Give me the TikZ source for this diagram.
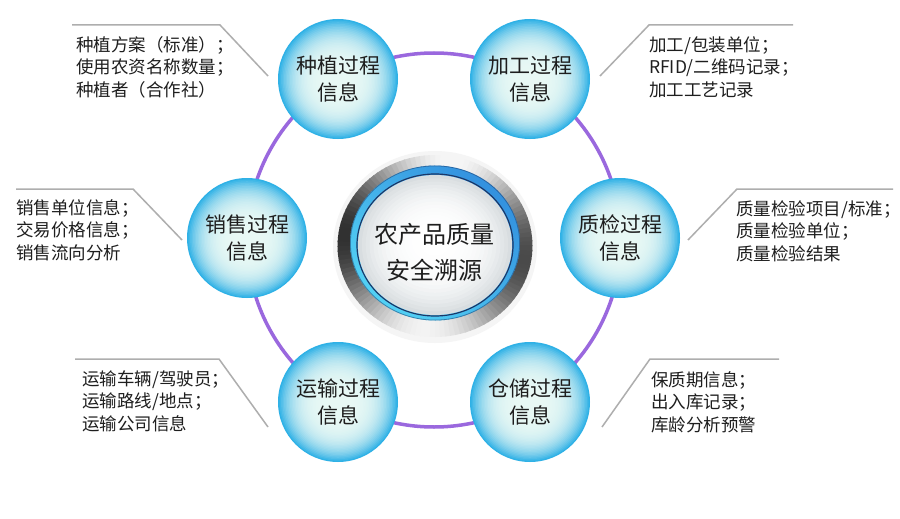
\documentclass[tikz,border=0pt]{standalone}
\usepackage{fontspec}
\setmainfont{Noto Sans CJK SC}
\definecolor{ringpurple}{HTML}{9A68DE}
\definecolor{leadgray}{HTML}{AEAEAE}
\definecolor{txt}{HTML}{1E1E1E}
\definecolor{bA}{HTML}{E8F8F4}
\definecolor{bE}{HTML}{2FB1E6}
\definecolor{blA}{HTML}{52D0F4}
\definecolor{blB}{HTML}{3492DF}
\definecolor{navy}{HTML}{1C3868}
\definecolor{wC}{HTML}{D8DDE0}
\newcommand\bubblebg[2]{%
  \foreach \k in {0,...,39}{%
    \pgfmathsetmacro\ff{1-\k/40}%
    \pgfmathsetmacro\ww{100*(1-\ff^4)}%
    \pgfmathsetmacro\rr{60*\ff}%
    \pgfmathsetmacro\yy{#2+4*(1-\ff)}%
    \fill[bA!\ww!bE] (#1,\yy) circle[radius=\rr pt];
  }}
\tikzset{
  bubble/.style={circle, minimum size=120pt, inner sep=0pt,
    align=center, text=txt, font=\fontsize{21}{27}\selectfont},
  infotext/.style={anchor=west, inner sep=0pt, align=left, text=txt,
    font=\fontsize{17.5}{22.5}\selectfont},
  leader/.style={draw=leadgray, line width=1.5pt},
  ringline/.style={draw=ringpurple, line width=3.5pt}
}
\begin{document}
\begin{tikzpicture}[x=1pt,y=-1pt]
\useasboundingbox (0,0) rectangle (900,519);
\fill[white] (0,0) rectangle (900,519);
% hexagon ring
\coordinate (hub) at (434,240);
\draw[ringline] (hub) circle[radius=187pt];
% central badge
\coordinate (core) at (435,246);
\fill[gray!8] (435,247) ellipse[x radius=102pt, y radius=96pt];
\foreach \t in {0,3,...,357}{%
  \pgfmathsetmacro\gl{max(0.15,min(0.96,0.6+0.36*cos(2*(\t-80))+0.05*cos(\t)))}%
  \definecolor{cur}{gray}{\gl}%
  \fill[cur] (core) -- ({435+97.5*cos(\t)},{246-91*sin(\t)}) -- ({435+97.5*cos(\t+3.6)},{246-91*sin(\t+3.6)}) -- cycle;
}
\foreach \t in {0,3,...,357}{%
  \pgfmathsetmacro\pp{100*(1-cos(\t-45))/2}%
  \fill[blA!\pp!blB] (435,243) -- ({435+85*cos(\t)},{243-77.5*sin(\t)}) -- ({435+85*cos(\t+3.6)},{243-77.5*sin(\t+3.6)}) -- cycle;
}
\draw[navy, line width=0.8pt, opacity=0.5] (435,243) ellipse[x radius=84.6pt, y radius=77.1pt];
\draw[navy, line width=1.2pt] (435,245) ellipse[x radius=78pt, y radius=71pt];
\foreach \k in {0,...,19}{%
  \pgfmathsetmacro\ff{1-\k/20}%
  \pgfmathsetmacro\ww{100*\ff^3}%
  \fill[wC!\ww!white] (435,{245-4*(1-\ff)}) ellipse[x radius=77*\ff pt, y radius=70*\ff pt];
}
\node[align=center, text=txt, font=\fontsize{24}{36}\selectfont, inner sep=0pt] (title) at (434,252) {农产品质量\\安全溯源};
% bubbles
\bubblebg{338}{79}\bubblebg{530}{79}\bubblebg{247}{238}
\bubblebg{620}{238}\bubblebg{338}{402}\bubblebg{530}{402}
\node[bubble] (plant) at (338,79) {种植过程\\信息};
\node[bubble] (proc) at (530,79) {加工过程\\信息};
\node[bubble] (sale) at (247,238) {销售过程\\信息};
\node[bubble] (qc) at (620,238) {质检过程\\信息};
\node[bubble] (trans) at (338,402) {运输过程\\信息};
\node[bubble] (store) at (530,402) {仓储过程\\信息};
% leader coordinates
\coordinate (p1) at (72,25); \coordinate (p2) at (220,25); \coordinate (p3) at (268,76);
\coordinate (s1) at (16,189); \coordinate (s2) at (133,189); \coordinate (s3) at (182,240);
\coordinate (g1) at (793,25); \coordinate (g2) at (649,25); \coordinate (g3) at (600,76);
\coordinate (q1) at (893,189); \coordinate (q2) at (737,189); \coordinate (q3) at (688,240);
\coordinate (t1) at (75,359); \coordinate (t2) at (219,359); \coordinate (t3) at (268,427);
\coordinate (c1) at (779,359); \coordinate (c2) at (650,359); \coordinate (c3) at (602,427);
\draw[leader] (p1) -- (p2) -- (p3);
\draw[leader] (s1) -- (s2) -- (s3);
\draw[leader] (g1) -- (g2) -- (g3);
\draw[leader] (q1) -- (q2) -- (q3);
\draw[leader] (t1) -- (t2) -- (t3);
\draw[leader] (c1) -- (c2) -- (c3);
% info texts
\node[infotext] (plantinfo) at (76,67) {种植方案（标准）；\\使用农资名称数量；\\种植者（合作社）};
\node[infotext] (saleinfo) at (16,230) {销售单位信息；\\交易价格信息；\\销售流向分析};
\node[infotext] (procinfo) at (649,67) {加工/包装单位；\\RFID/二维码记录；\\加工工艺记录};
\node[infotext] (qcinfo) at (736,231) {质量检验项目/标准；\\质量检验单位；\\质量检验结果};
\node[infotext] (transinfo) at (82,401) {运输车辆/驾驶员；\\运输路线/地点；\\运输公司信息};
\node[infotext] (storeinfo) at (651,402) {保质期信息；\\出入库记录；\\库龄分析预警};
\end{tikzpicture}
\end{document}
